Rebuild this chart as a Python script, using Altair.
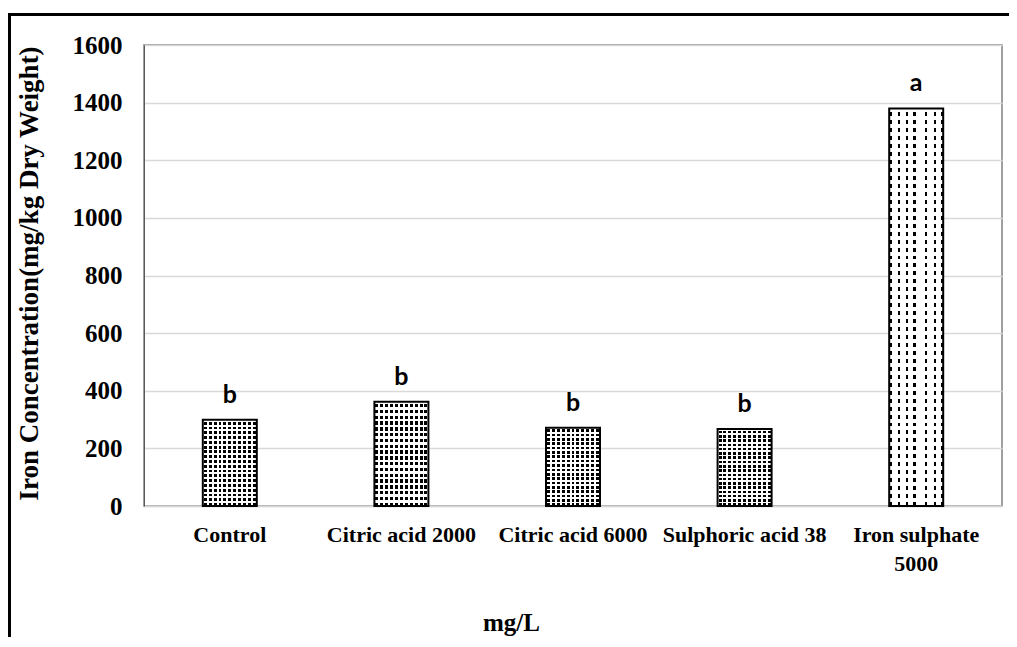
import altair as alt
import pandas as pd

# ---- data ----
categories = ["Control", "Citric acid 2000", "Citric acid 6000", "Sulphoric acid 38", "Iron sulphate 5000"]
iron_conc = [299, 362, 272, 267, 1380]
letters = ["b", "b", "b", "b", "a"]
patterns = ["dots", "dots", "dots", "dots", "dashes"]
y_ticks = [0, 200, 400, 600, 800, 1000, 1200, 1400, 1600]

df = pd.DataFrame({"treatment": categories, "value": iron_conc,
                   "letter": letters, "pattern": patterns})

CLEAR = "rgba(255,255,255,0)"


def stripe_gradient(bands, on_color, off_color, along_x):
    """bands: list of (start, end) fractions that get on_color."""
    stops = [{"offset": 0, "color": off_color}]
    for a, b in bands:
        stops += [{"offset": a, "color": off_color}, {"offset": a, "color": on_color},
                  {"offset": b, "color": on_color}, {"offset": b, "color": off_color}]
    stops.append({"offset": 1, "color": off_color})
    g = {"gradient": "linear", "stops": stops, "x1": 0, "y1": 0}
    if along_x:
        g.update({"x2": 1, "y2": 0})
    else:
        g.update({"x2": 0, "y2": 1})
    return g


def periodic(n, start, end):
    return [((i + start) / n, (i + end) / n) for i in range(n)]


# dotted texture: black columns, overlaid by opaque white rows
dot_cols = stripe_gradient(periodic(11, 0.2, 0.8), "black", "white", True)
dot_rows = stripe_gradient(periodic(18, 0.0, 0.4), "white", CLEAR, False)
# dashed texture: a few black columns, overlaid by opaque white rows
dash_cols = stripe_gradient([(0.0, 0.06), (0.17, 0.2), (0.31, 0.34), (0.44, 0.5),
                             (0.67, 0.7), (0.83, 0.86), (0.95, 1.0)], "black", "white", True)
dash_rows = stripe_gradient(periodic(50, 0.0, 0.5), "white", CLEAR, False)

SERIF = "Liberation Serif"

x_enc = alt.X(
    "treatment:N", sort=categories,
    scale=alt.Scale(paddingInner=0, paddingOuter=0),
    axis=alt.Axis(
        title="mg/L", labelAngle=0, labelFont=SERIF, labelFontSize=22, labelFontWeight="bold",
        labelColor="black", labelPadding=18, labelLineHeight=29, labelOverlap=False,
        labelExpr="datum.value == 'Iron sulphate 5000' ? ['Iron sulphate', '5000'] : datum.value",
        ticks=False, tickSize=0, domainColor="#d9d9d9", domainWidth=1.5,
        titleFont=SERIF, titleFontSize=25, titleFontWeight="bold", titleColor="black",
        titleX=367, titleY=124, titleBaseline="alphabetic", titleAlign="center",
    ),
)
y_enc = alt.Y(
    "value:Q",
    scale=alt.Scale(domain=[0, 1600], nice=False, zero=True),
    axis=alt.Axis(
        values=y_ticks, format="d", title="Iron Concentration(mg/kg Dry Weight)",
        labelFont=SERIF, labelFontSize=25, labelFontWeight="bold", labelColor="black",
        labelPadding=22, ticks=False, tickSize=0,
        domainColor="#595959", domainWidth=1,
        grid=True, gridColor="#d9d9d9", gridWidth=1.5,
        titleFont=SERIF, titleFontSize=27, titleFontWeight="bold", titleColor="black",
        titleX=-107, titleY=228, titleBaseline="alphabetic", titleAngle=270, titleAlign="center",
    ),
)

base = alt.Chart(df).encode(x=x_enc, y=y_enc)

dots = base.transform_filter(alt.datum.pattern == "dots")
dashes = base.transform_filter(alt.datum.pattern == "dashes")

dots_bg = dots.mark_bar(size=54, fill=dot_cols, strokeWidth=0)
dots_fg = dots.mark_bar(size=54, fill=dot_rows, stroke="black", strokeWidth=2)
dash_bg = dashes.mark_bar(size=54, fill=dash_cols, strokeWidth=0)
dash_fg = dashes.mark_bar(size=54, fill=dash_rows, stroke="black", strokeWidth=2)

labels = base.mark_text(font="Lato", fontSize=25, fontWeight="bold", color="black",
                        baseline="alphabetic", dy=-17).encode(text="letter:N")

frame_df = pd.DataFrame({"k": [0]})
frame_top = alt.Chart(frame_df).mark_rule(color="black", strokeWidth=3).encode(
    x=alt.value(-135), x2=alt.value(880), y=alt.value(-30.5))
frame_left = alt.Chart(frame_df).mark_rule(color="black", strokeWidth=3).encode(
    x=alt.value(-134.5), y=alt.value(-32), y2=alt.value(620))

chart = alt.layer(dots_bg, dots_fg, dash_bg, dash_fg, labels, frame_top, frame_left).properties(
    width=858, height=461,
    autosize=alt.AutoSizeParams(type="none"),
    padding={"left": 136, "top": 37, "right": 7, "bottom": 131},
    background="white",
).configure_view(stroke="#808080", strokeWidth=1.5)

chart.save("out.html", embed_options={"renderer": "svg", "actions": False})
